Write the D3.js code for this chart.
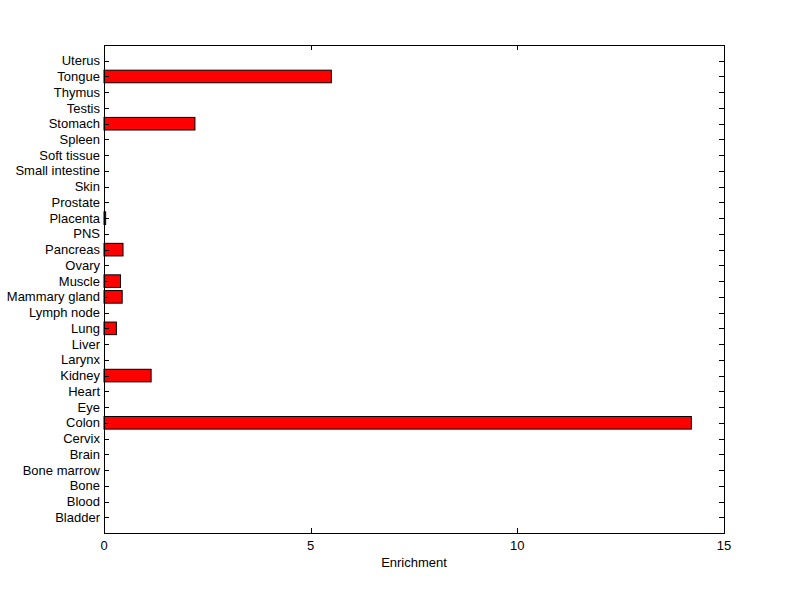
<!DOCTYPE html>
<html><head><meta charset="utf-8">
<script src="https://cdn.jsdelivr.net/npm/d3@7"></script>
<style>body{margin:0;background:#fff;} text{font-family:"Liberation Sans",Arial,sans-serif;font-size:13px;fill:#000;}</style>
</head><body>
<svg id="chart" width="800" height="599"></svg>
<script>
const categories = ["Bladder","Blood","Bone","Bone marrow","Brain","Cervix","Colon","Eye","Heart","Kidney","Larynx","Liver","Lung","Lymph node","Mammary gland","Muscle","Ovary","Pancreas","PNS","Placenta","Prostate","Skin","Small intestine","Soft tissue","Spleen","Stomach","Testis","Thymus","Tongue","Uterus"];
const enrichment = [0,0,0,0,0,0,14.21,0,0,1.14,0,0,0.30,0,0.44,0.40,0,0.46,0,0.04,0,0,0,0,0,2.2,0,0,5.5,0];
const xTicks = [0,5,10,15];
const xLabel = "Enrichment";

const svg = d3.select("#chart");
const L=104, R=724, T=45, B=533;
const x = d3.scaleLinear().domain([0,15]).range([L,R]);
const y = d3.scaleLinear().domain([0,categories.length+1]).range([B,T]);
const bh = Math.abs(y(0.8)-y(0));

svg.append("rect").attr("width",800).attr("height",599).attr("fill","#fff");

const data = categories.map((c,i)=>({c, v:enrichment[i], i})).filter(d=>d.v>0);
svg.append("g").selectAll("rect").data(data).join("rect")
  .attr("x",x(0))
  .attr("y",d=>y(d.i+1)-bh/2)
  .attr("width",d=>x(d.v)-x(0))
  .attr("height",bh)
  .attr("fill","#ff0000").attr("stroke","#000").attr("stroke-width",1);

svg.append("rect").attr("x",L+0.5).attr("y",T+0.5).attr("width",R-L).attr("height",B-T)
  .attr("fill","none").attr("stroke","#000").attr("stroke-width",1);

const tl=5;
const xg = svg.append("g");
xTicks.forEach(t=>{
  const px=Math.round(x(t))+0.5;
  xg.append("line").attr("x1",px).attr("x2",px).attr("y1",B).attr("y2",B-tl).attr("stroke","#000");
  xg.append("line").attr("x1",px).attr("x2",px).attr("y1",T).attr("y2",T+tl).attr("stroke","#000");
  xg.append("text").attr("x",x(t)).attr("y",B+17).attr("text-anchor","middle").text(t);
});
svg.append("text").attr("x",(L+R)/2).attr("y",567).attr("text-anchor","middle").text(xLabel);

const yg = svg.append("g");
categories.forEach((c,i)=>{
  const py=Math.round(y(i+1))+0.5;
  yg.append("line").attr("x1",L).attr("x2",L+tl).attr("y1",py).attr("y2",py).attr("stroke","#000");
  yg.append("line").attr("x1",R).attr("x2",R-tl).attr("y1",py).attr("y2",py).attr("stroke","#000");
  yg.append("text").attr("x",L-4).attr("y",y(i+1)).attr("dy","0.35em").attr("text-anchor","end").text(c);
});
</script>
</body></html>
